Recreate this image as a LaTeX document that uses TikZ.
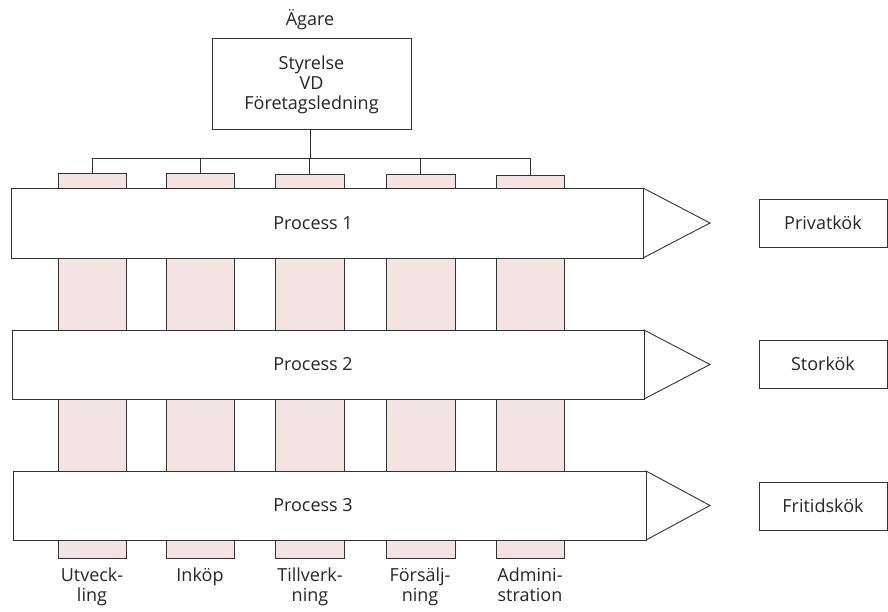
\documentclass[tikz,border=0pt]{standalone}
\usepackage{fontspec}
\setmainfont{Open Sans}
\definecolor{colfill}{HTML}{F3E4E3}
\definecolor{linecol}{HTML}{333333}
\begin{document}
\begin{tikzpicture}[x=1pt,y=-1pt,
  every node/.style={font=\fontsize{18}{20}\selectfont, text=black!85},
  pillar/.style={draw=linecol, line width=0.9pt, fill=colfill},
  band/.style={draw=linecol, line width=0.9pt, fill=white},
  boxnode/.style={draw=linecol, line width=0.9pt, fill=white},
  conn/.style={draw=linecol, line width=0.9pt},
  lbl/.style={align=center, inner sep=0pt}
]
\useasboundingbox (0,0) rectangle (888,612);

% top box
\node[lbl] (owner) at (310,20) {Ägare};
\draw[boxnode] (212,38) rectangle (411,129);
\coordinate (topS) at (310,129);
\node[lbl] (board) at (311.5,85) {Styrelse\\VD\\Företagsledning};

% pillars
\foreach \n/\xl/\xr/\yt in {1/58/126/173, 2/166/234/173, 3/275/344/174, 4/386/455/174, 5/496/564/175}{
  \draw[pillar] (\xl,\yt) rectangle (\xr,558);
  \coordinate (p\n) at ({(\xl+\xr)/2},\yt);
}

% bus connectors
\coordinate (bus) at (310,158);
\draw[conn] (topS) -- (bus);
\draw[conn] (p1 |- bus) -- (p5 |- bus);
\foreach \n in {1,...,5}{ \draw[conn] (p\n |- bus) -- (p\n); }

% process bands
\foreach \n/\yt/\yb/\xl/\xr in {1/188/258/11/643, 2/330/399/12/644, 3/471/540/13/646}{
  \draw[band, line join=miter] (\xr,\yt) -- (710,{(\yt+\yb)/2}) -- (\xr,\yb) -- cycle;
  \draw[band] (\xl,\yt) rectangle (\xr,\yb);
  \node[lbl] (proc\n) at (313,{(\yt+\yb)/2}) {Process \n};
}

% markets
\draw[boxnode] (759,199) rectangle (887,247);
\node[lbl] (m1) at (823,223) {Privatkök};
\draw[boxnode] (759,340) rectangle (887,388);
\node[lbl] (m2) at (823,364) {Storkök};
\draw[boxnode] (759,482) rectangle (887,530);
\node[lbl] (m3) at (823,506) {Fritidskök};

% pillar labels
\node[lbl, anchor=north] (l1) at (92,568) {Utveck-\\ling};
\node[lbl, anchor=north] (l2) at (200,568) {Inköp};
\node[lbl, anchor=north] (l3) at (310,568) {Tillverk-\\ning};
\node[lbl, anchor=north] (l4) at (420,568) {Försälj-\\ning};
\node[lbl, anchor=north] (l5) at (530,568) {Admini-\\stration};
\end{tikzpicture}
\end{document}
